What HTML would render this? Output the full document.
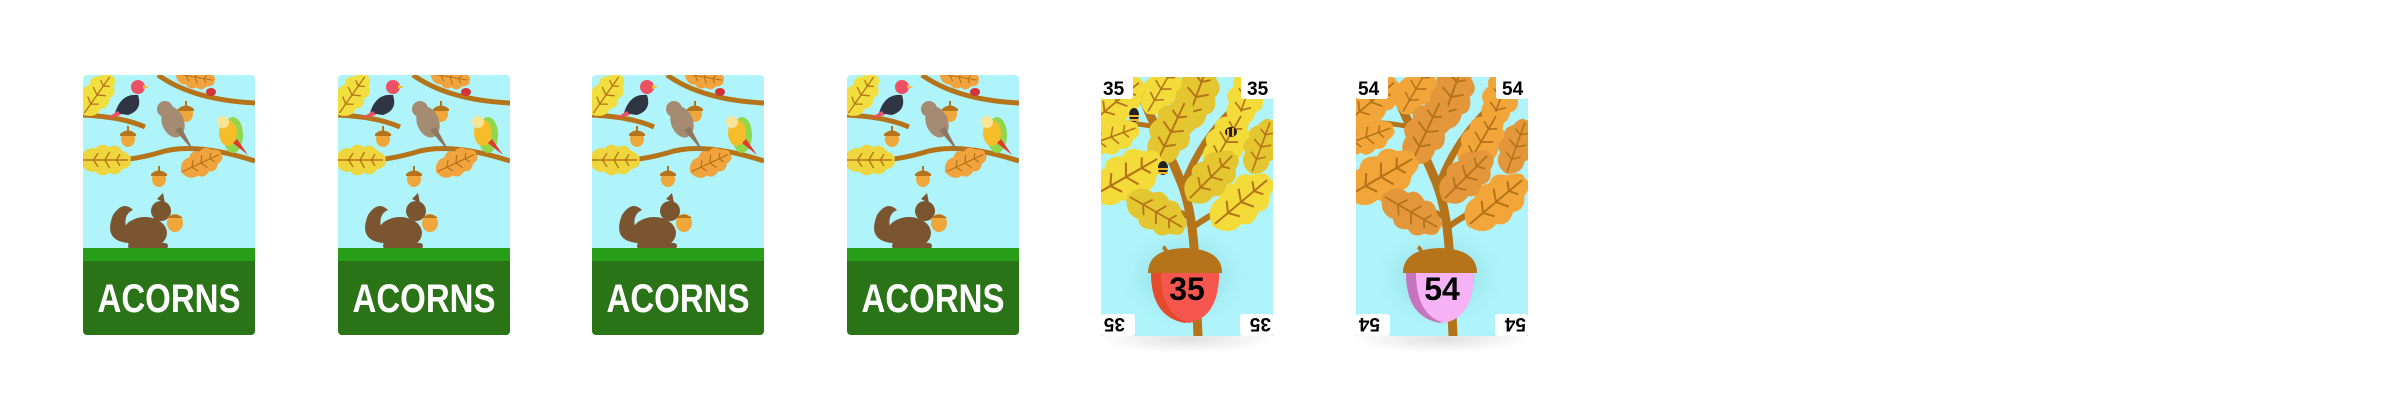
<!DOCTYPE html>
<html><head><meta charset="utf-8"><style>
html,body{margin:0;padding:0;background:#fff;width:2400px;height:413px;overflow:hidden}
svg{display:block}
text{font-family:"Liberation Sans",sans-serif;font-weight:bold}
</style></head><body>
<svg width="2400" height="413" viewBox="0 0 2400 413">
<defs>
<radialGradient id="shadow" cx="0.5" cy="0.5" r="0.5">
<stop offset="0" stop-color="#6fb9c2" stop-opacity="0.8"/>
<stop offset="1" stop-color="#aef4fa" stop-opacity="0"/>
</radialGradient>
<radialGradient id="dropsh" cx="0.5" cy="0.5" r="0.5">
<stop offset="0" stop-color="#000" stop-opacity="0.12"/>
<stop offset="1" stop-color="#000" stop-opacity="0"/>
</radialGradient>
<clipPath id="frontclip"><path d="M0 21 H32 V0 H140 V21 H172 V259 H0Z"/></clipPath>
<clipPath id="backclip"><rect x="0" y="0" width="172" height="260" rx="4"/></clipPath>
<g id="acornsmall">
<ellipse cx="0" cy="4" rx="7" ry="8" fill="#f0a73a"/>
<path d="M-8 -1 Q0 -8 8 -1 L8 1 L-8 1Z" fill="#b5741a"/>
<rect x="-1" y="-9" width="2" height="5" fill="#b5741a"/>
</g>
<g id="leafY"><path d="M-22 0 Q-18 -12 -8 -10 Q-4 -16 4 -11 Q10 -15 15 -8 Q24 -4 22 0 Q24 6 15 8 Q10 15 4 11 Q-4 16 -8 10 Q-18 12 -22 0Z"/><path d="M-20 0 L20 0 M-10 0 L-6 -6 M-10 0 L-6 6 M0 0 L4 -7 M0 0 L4 7 M10 0 L13 -5 M10 0 L13 5" stroke="#b5741a" stroke-width="1.2"/></g>
<g id="back">
<g clip-path="url(#backclip)">
<rect x="0" y="0" width="172" height="260" fill="#aef4fa"/>
<path d="M75 0 Q110 25 172 28" stroke="#b5741a" stroke-width="5" fill="none"/>
<path d="M0 40 Q40 42 62 52" stroke="#b5741a" stroke-width="5" fill="none"/>
<path d="M0 86 Q40 88 75 78 Q110 66 172 86" stroke="#b5741a" stroke-width="5" fill="none"/>
<use href="#leafY" fill="#f1de3f" transform="translate(14,20) rotate(-55) scale(1.1)"/>
<use href="#leafY" fill="#eed63c" transform="translate(22,85) rotate(0) scale(1.15)"/>
<use href="#leafY" fill="#f1a33d" transform="translate(118,88) rotate(-25) scale(1)"/>
<use href="#leafY" fill="#f1a33d" transform="translate(112,2) rotate(10) scale(0.9)"/>
<ellipse cx="150" cy="60" rx="10" ry="18" fill="#8fd84c"/>
<use href="#acornsmall" x="45" y="60"/>
<use href="#acornsmall" x="103" y="35"/>
<use href="#acornsmall" x="76" y="100"/>
<path d="M32 38 Q38 18 55 20 Q60 35 45 40Z" fill="#2f3543"/>
<circle cx="55" cy="12" r="7" fill="#ee5063"/>
<path d="M60 10 L66 12 L60 14Z" fill="#f5bd2a"/>
<path d="M35 36 L22 44 L38 40Z" fill="#ee5063"/>
<ellipse cx="90" cy="47" rx="11" ry="16" fill="#a48b72" transform="rotate(-20 90 47)"/>
<circle cx="82" cy="34" r="8" fill="#a48b72"/>
<path d="M92 55 L112 78 L98 52Z" fill="#8e7660"/>
<ellipse cx="145" cy="58" rx="9" ry="13" fill="#f5bd2a"/>
<circle cx="140" cy="47" r="6" fill="#f9e597"/>
<path d="M150 68 L165 80 L154 64Z" fill="#e23a2a"/>
<ellipse cx="128" cy="17" rx="5" ry="4" fill="#d2343a"/>
<g fill="#7b5530">
<ellipse cx="62" cy="158" rx="22" ry="16"/>
<circle cx="78" cy="136" r="10"/>
<path d="M44 168 Q20 165 30 140 Q40 125 50 135 Q38 140 45 160Z"/>
<path d="M74 124 L80 118 L82 128Z"/>
<rect x="45" y="168" width="40" height="6" rx="3"/>
</g>
<ellipse cx="92" cy="148" rx="8" ry="9" fill="#f0a73a"/>
<path d="M84 143 Q92 136 100 143Z" fill="#b5741a"/>
<rect x="0" y="173" width="172" height="14" fill="#289d18"/>
<rect x="0" y="186" width="172" height="74" fill="#2b7317"/>
</g>
</g>
</defs>

<g transform="translate(83,75)"><use href="#back"/><text x="86" y="237" text-anchor="middle" font-size="40" fill="#fff" textLength="143" lengthAdjust="spacingAndGlyphs">ACORNS</text></g>
<g transform="translate(338,75)"><use href="#back"/><text x="86" y="237" text-anchor="middle" font-size="40" fill="#fff" textLength="143" lengthAdjust="spacingAndGlyphs">ACORNS</text></g>
<g transform="translate(592,75)"><use href="#back"/><text x="86" y="237" text-anchor="middle" font-size="40" fill="#fff" textLength="143" lengthAdjust="spacingAndGlyphs">ACORNS</text></g>
<g transform="translate(847,75)"><use href="#back"/><text x="86" y="237" text-anchor="middle" font-size="40" fill="#fff" textLength="143" lengthAdjust="spacingAndGlyphs">ACORNS</text></g>

<g transform="translate(1101,77)">
<ellipse cx="86" cy="262" rx="90" ry="14" fill="url(#dropsh)"/>
<g clip-path="url(#frontclip)">
<rect x="0" y="0" width="172" height="259" fill="#aef4fa"/>
<ellipse cx="84" cy="200" rx="70" ry="55" fill="url(#shadow)"/>
<g stroke="#b5741a" stroke-linecap="round" fill="none">
<path d="M97 259 L93 170 Q90 130 80 105 Q70 80 50 40 L35 5" stroke-width="9"/>
<path d="M82 110 Q100 60 140 25 L160 5" stroke-width="7"/>
<path d="M88 140 Q50 120 20 110" stroke-width="6"/>
<path d="M92 150 Q120 130 150 120" stroke-width="6"/>
<path d="M55 50 Q30 45 5 45" stroke-width="5"/>
</g>
<g fill="#f3dc3a">
<use href="#leafY" transform="translate(15,25) rotate(-40) scale(1.5)"/>
<use href="#leafY" transform="translate(95,20) rotate(-70) scale(1.6)" fill="#e4c630"/>
<use href="#leafY" transform="translate(60,12) rotate(-60) scale(1.3)"/>
<use href="#leafY" transform="translate(145,20) rotate(-70) scale(1.4)"/>
<use href="#leafY" transform="translate(70,55) rotate(-65) scale(1.6)" fill="#e4c630"/>
<use href="#leafY" transform="translate(125,65) rotate(-60) scale(1.5)"/>
<use href="#leafY" transform="translate(160,70) rotate(-70) scale(1.3)" fill="#e4c630"/>
<use href="#leafY" transform="translate(25,100) rotate(-30) scale(1.8)"/>
<use href="#leafY" transform="translate(55,135) rotate(30) scale(1.5)" fill="#e4c630"/>
<use href="#leafY" transform="translate(140,125) rotate(-40) scale(1.7)"/>
<use href="#leafY" transform="translate(110,100) rotate(-45) scale(1.5)" fill="#e4c630"/>
<use href="#leafY" transform="translate(10,60) rotate(-20) scale(1.3)"/>
</g>
</g>
<g><ellipse cx="33" cy="38" rx="5" ry="7" fill="#222"/><rect x="28" y="38" width="10" height="2" fill="#f5b52a"/><rect x="28" y="42" width="10" height="2" fill="#f5b52a"/></g>
<g><ellipse cx="62" cy="91" rx="5" ry="7" fill="#222"/><rect x="57" y="91" width="10" height="2" fill="#f5b52a"/><rect x="57" y="95" width="10" height="2" fill="#f5b52a"/></g>
<g><ellipse cx="130" cy="55" rx="6" ry="5" fill="#222"/><rect x="126" y="52" width="2" height="8" fill="#f5b52a"/><rect x="131" y="51" width="2" height="8" fill="#f5b52a"/></g>
<path d="M62 170 Q66 172 68 185" stroke="#b5741a" stroke-width="4" fill="none"/>
<path d="M50 196 Q50 240 84 246 Q118 240 118 196Z" fill="#e44b2c"/>
<path d="M60 196 Q60 238 88 246 Q118 240 118 196Z" fill="#f5574e"/>
<path d="M47 196 Q47 172 84 171 Q121 172 121 196Z" fill="#b5741a"/>
<text x="86" y="223" text-anchor="middle" font-size="32" fill="#000">35</text>
<rect x="0" y="0" width="32" height="22" rx="3" fill="#fff"/><rect x="140" y="0" width="32" height="22" rx="3" fill="#fff"/>
<rect x="0" y="237" width="34" height="22" rx="3" fill="#fff"/><rect x="139" y="237" width="33" height="22" rx="3" fill="#fff"/>
<text x="2" y="18" font-size="19">35</text>
<text x="146" y="18" font-size="19">35</text>
<text transform="translate(24,241) rotate(180)" font-size="19">35</text>
<text transform="translate(170,241) rotate(180)" font-size="19">35</text>
</g>

<g transform="translate(1356,77)">
<ellipse cx="86" cy="262" rx="90" ry="14" fill="url(#dropsh)"/>
<g clip-path="url(#frontclip)">
<rect x="0" y="0" width="172" height="259" fill="#aef4fa"/>
<ellipse cx="84" cy="200" rx="70" ry="55" fill="url(#shadow)"/>
<g stroke="#b5741a" stroke-linecap="round" fill="none">
<path d="M97 259 L93 170 Q90 130 80 105 Q70 80 50 40 L35 5" stroke-width="9"/>
<path d="M82 110 Q100 60 140 25 L160 5" stroke-width="7"/>
<path d="M88 140 Q50 120 20 110" stroke-width="6"/>
<path d="M92 150 Q120 130 150 120" stroke-width="6"/>
<path d="M55 50 Q30 45 5 45" stroke-width="5"/>
</g>
<g fill="#f2a63a">
<use href="#leafY" transform="translate(15,25) rotate(-40) scale(1.5)"/>
<use href="#leafY" transform="translate(95,20) rotate(-70) scale(1.6)" fill="#e3963a"/>
<use href="#leafY" transform="translate(60,12) rotate(-60) scale(1.3)"/>
<use href="#leafY" transform="translate(145,20) rotate(-70) scale(1.4)"/>
<use href="#leafY" transform="translate(70,55) rotate(-65) scale(1.6)" fill="#e3963a"/>
<use href="#leafY" transform="translate(125,65) rotate(-60) scale(1.5)"/>
<use href="#leafY" transform="translate(160,70) rotate(-70) scale(1.3)" fill="#e3963a"/>
<use href="#leafY" transform="translate(25,100) rotate(-30) scale(1.8)"/>
<use href="#leafY" transform="translate(55,135) rotate(30) scale(1.5)" fill="#e3963a"/>
<use href="#leafY" transform="translate(140,125) rotate(-40) scale(1.7)"/>
<use href="#leafY" transform="translate(110,100) rotate(-45) scale(1.5)" fill="#e3963a"/>
<use href="#leafY" transform="translate(10,60) rotate(-20) scale(1.3)"/>
</g>
</g>
<path d="M62 170 Q66 172 68 185" stroke="#b5741a" stroke-width="4" fill="none"/>
<path d="M50 196 Q50 240 84 246 Q118 240 118 196Z" fill="#c774bf"/>
<path d="M60 196 Q60 238 88 246 Q118 240 118 196Z" fill="#f5b3f5"/>
<path d="M47 196 Q47 172 84 171 Q121 172 121 196Z" fill="#b5741a"/>
<text x="86" y="223" text-anchor="middle" font-size="32" fill="#000">54</text>
<rect x="0" y="0" width="32" height="22" rx="3" fill="#fff"/><rect x="140" y="0" width="32" height="22" rx="3" fill="#fff"/>
<rect x="0" y="237" width="34" height="22" rx="3" fill="#fff"/><rect x="139" y="237" width="33" height="22" rx="3" fill="#fff"/>
<text x="2" y="18" font-size="19">54</text>
<text x="146" y="18" font-size="19">54</text>
<text transform="translate(24,241) rotate(180)" font-size="19">54</text>
<text transform="translate(170,241) rotate(180)" font-size="19">54</text>
</g>
</svg>
</body></html>
